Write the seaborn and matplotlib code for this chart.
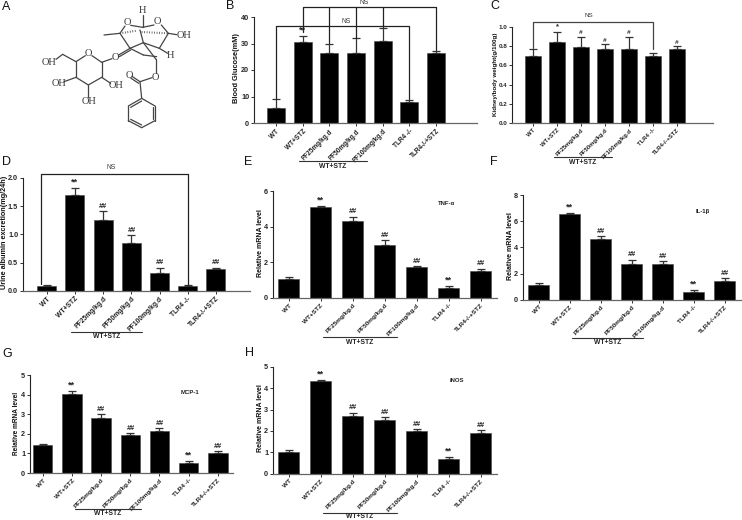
import matplotlib
matplotlib.use('Agg')
import matplotlib.pyplot as plt
import numpy as np
import pandas as pd
import seaborn as sns

W, H = 742, 520

groups = ['WT', 'WT+STZ', 'PF25mg/kg.d', 'PF50mg/kg.d', 'PF100mg/kg.d', 'TLR4 -/-', 'TLR4-/-+STZ']

glucose = [5.8, 30.5, 26.5, 26.3, 30.8, 8.0, 26.3]
glucose_top = [9.0, 33.0, 30.0, 32.0, 36.0, 8.6, 27.0]
kidney = [0.70, 0.84, 0.79, 0.77, 0.77, 0.70, 0.77]
kidney_top = [0.77, 0.95, 0.90, 0.82, 0.90, 0.73, 0.80]
albumin = [0.09, 1.69, 1.25, 0.84, 0.32, 0.08, 0.38]
albumin_top = [0.11, 1.82, 1.41, 0.98, 0.41, 0.10, 0.41]
tnf = [1.05, 5.10, 4.30, 2.95, 1.75, 0.55, 1.50]
tnf_top = [1.15, 5.15, 4.55, 3.25, 1.80, 0.65, 1.65]
il1b = [1.15, 6.55, 4.60, 2.70, 2.75, 0.60, 1.45]
il1b_top = [1.25, 6.60, 4.85, 3.05, 2.95, 0.72, 1.65]
mcp1 = [1.42, 4.02, 2.80, 1.95, 2.13, 0.53, 1.00]
mcp1_top = [1.47, 4.17, 3.00, 2.04, 2.28, 0.60, 1.12]
inos = [1.02, 4.32, 2.70, 2.50, 2.00, 0.70, 1.92]
inos_top = [1.10, 4.36, 2.85, 2.65, 2.08, 0.78, 2.02]

marks_full = ['', '**', '##', '##', '##', '**', '##']
marks_d = ['', '**', '##', '##', '##', '', '##']
marks_c = ['', '*', '#', '#', '#', '', '#']
marks_b = ['', '**', '', '', '', '', '']

sns.set_theme(style='ticks')
plt.rcParams['font.family'] = ['Liberation Sans', 'DejaVu Sans']
plt.rcParams['font.weight'] = 'bold'

fig = plt.figure(figsize=(W / 100, H / 100), dpi=100)

# overlay in pixel coordinates for letters, structure and group lines
over = fig.add_axes([0, 0, 1, 1], zorder=5)
over.set_xlim(0, W)
over.set_ylim(H, 0)
over.axis('off')


def bar_panel(vals, tops, marks, ylabel, yticks, ticklabels, box, bars, lab, star_fs=6.5, hash_fs=5.2, tick_fs=5.2, x_fs=4.8):
    left, right, y0, ytop = box
    c0, step, bar_w = bars
    lab_x, lab_y, lab_fs = lab
    # axes box is placed so that the bar centres land where they are in the figure
    ax = fig.add_axes([left / W, 1 - y0 / H, (right - left) / W, (y0 - ytop) / H])
    df = pd.DataFrame({'group': groups, 'value': vals})
    sns.barplot(data=df, x='group', y='value', color='black', saturation=1,
                width=bar_w / step, ax=ax, errorbar=None, edgecolor='#444444', linewidth=0.4)
    x = np.arange(len(groups))
    ax.errorbar(x, vals, yerr=[np.zeros(len(vals)), np.array(tops) - np.array(vals)], fmt='none',
                ecolor='#333333', elinewidth=0.9, capsize=3.2, capthick=0.9, zorder=1)
    ax.set_xlim((left - c0) / step, (right - c0) / step)
    ax.set_ylim(yticks[0], yticks[-1])
    ax.set_yticks(yticks)
    ax.set_yticklabels(ticklabels, fontsize=tick_fs, fontweight='bold')
    ax.set_xticks(x)
    ax.set_xticklabels(groups, rotation=45, ha='right', rotation_mode='anchor', fontsize=x_fs, fontweight='bold', color='#222222')
    ax.set_xlabel('')
    ax.set_ylabel('')
    over.text(lab_x, lab_y, ylabel, rotation=90, fontsize=lab_fs, fontweight='bold', ha='center', va='center', color='#111111')
    ax.patch.set_alpha(0)
    sns.despine(ax=ax)
    ax.spines['left'].set_linewidth(0.8)
    ax.spines['left'].set_color('#222222')
    ax.spines['bottom'].set_linewidth(0.9)
    ax.spines['bottom'].set_color('#666666')
    ax.tick_params(axis='both', length=2, width=0.7, pad=1.5, color='#333333')
    for i, m in enumerate(marks):
        if m:
            ax.annotate(m, (i, tops[i]), xytext=(0, 1.0), textcoords='offset points', ha='center', va='bottom',
                        fontsize=hash_fs if '#' in m else star_fs, fontweight='bold', color='#222222',
                        fontstyle='italic' if '#' in m else 'normal')
    return ax


def bracket(ax, x1, x2, y, y1, y2, color='#222222'):
    ax.plot([x1, x1, x2, x2], [y1, y, y, y2], color=color, lw=0.9, clip_on=False, zorder=6)


def under_group(x1, x2, y, ty):
    over.plot([x1, x2], [y, y], color='#333333', lw=0.8)
    over.text((x1 + x2) / 2, ty, 'WT+STZ', fontsize=4.9, fontweight='bold', ha='center', va='center', color='#222222')


ax_b = bar_panel(glucose, glucose_top, marks_b, 'Blood Glucose(mM)', [0, 10, 20, 30, 40],
                 ['0', '10', '20', '30', '40'], (254, 477, 123, 17), (276, 26.67, 18), (237, 68, 5.3), x_fs=4.7)
bracket(ax_b, 0, 5, 36.7, 9.2, 8.9)
bracket(ax_b, 1, 6, 43.7, 34.5, 27.5)
for pos, low in [(2, 30.2), (3, 32.2), (4, 36.2)]:
    ax_b.plot([pos, pos], [low, 43.7], color='#222222', lw=0.9, clip_on=False, zorder=6)
ax_b.text(2.62, 38.2, 'NS', fontsize=4.9, fontweight='normal', ha='center', va='center', color='#333333')
ax_b.text(3.3, 45.5, 'NS', fontsize=4.9, fontweight='normal', ha='center', va='center', color='#333333', clip_on=False)

ax_c = bar_panel(kidney, kidney_top, marks_c, 'Kidney/body weight(g/100g)', [0, 0.2, 0.4, 0.6, 0.8, 1.0],
                 ['0.0', '0.2', '0.4', '0.6', '0.8', '1.0'], (512, 713, 123, 27), (533, 24, 16.7), (496, 74, 4.5),
                 star_fs=5.5, hash_fs=4.6, tick_fs=4.5, x_fs=4.2)
bracket(ax_c, 0, 5, 1.05, 0.78, 0.77, color='#444444')
ax_c.text(2.31, 1.115, 'NS', fontsize=4.5, fontweight='normal', ha='center', va='center', color='#333333')

ax_d = bar_panel(albumin, albumin_top, marks_d, 'Urine albumin excretion(mg/24h)', [0, 0.5, 1.0, 1.5, 2.0],
                 ['0.0', '0.5', '1.0', '1.5', '2.0'], (23, 250, 290.7, 178), (46.7, 28.2, 19), (4.5, 232, 5.2), x_fs=4.9)
bracket(ax_d, -0.2, 5, 2.065, 0.12, 0.11)
ax_d.text(2.3, 2.18, 'NS', fontsize=4.9, fontweight='normal', ha='center', va='center', color='#333333')

ax_e = bar_panel(tnf, tnf_top, marks_full, 'Relative mRNA level', [0, 2, 4, 6], ['0', '2', '4', '6'],
                 (273, 497, 298, 191), (288.7, 32, 21), (260, 243, 5.0), x_fs=4.6)
ax_f = bar_panel(il1b, il1b_top, marks_full, 'Relative mRNA level', [0, 2, 4, 6, 8], ['0', '2', '4', '6', '8'],
                 (523, 741, 299.7, 195), (538.7, 31, 20.7), (511, 246, 5.0), x_fs=4.6)
ax_g = bar_panel(mcp1, mcp1_top, marks_full, 'Relative mRNA level', [0, 1, 2, 3, 4, 5],
                 ['0', '1', '2', '3', '4', '5'], (30, 233, 473, 375), (42.7, 29.2, 19.5), (16, 423, 4.7), x_fs=4.6)
ax_h = bar_panel(inos, inos_top, marks_full, 'Relative mRNA level', [0, 1, 2, 3, 4, 5],
                 ['0', '1', '2', '3', '4', '5'], (273, 497, 473.7, 366.7), (288.7, 32, 21), (261, 418, 5.0), x_fs=4.6)

under_group(299, 367, 160.7, 166)
under_group(554, 612, 157, 163)
under_group(71, 142, 331.7, 337)
under_group(323, 397, 336.7, 342)
under_group(572, 643, 337.7, 342.5)
under_group(75, 141, 508.7, 513.5)
under_group(323, 397, 512.7, 517)

over.text(447, 203.7, 'TNF-α', fontsize=4.3, ha='center', va='center', color='#222222')
over.text(702.7, 211, 'IL-1β', fontsize=4.3, ha='center', va='center', color='#222222')
over.text(190, 393, 'MCP-1', fontsize=4.3, ha='center', va='center', color='#222222')
over.text(457, 380, 'iNOS', fontsize=4.3, ha='center', va='center', color='#222222')

for letter, lx, ly in [('A', 2, 7), ('B', 226, 6), ('C', 490, 6), ('D', 2, 162),
                       ('E', 244, 162), ('F', 490, 162), ('G', 2, 354), ('H', 245, 353)]:
    over.text(lx, ly, letter, fontsize=9, fontweight='normal', ha='left', va='center', color='#111111')

# panel A: structure, traced on a 3x crop so divided by 3 below
bonds = [
    ((228, 185), (256, 167)), ((276, 167), (305, 187)), ((305, 187), (305, 232)), ((305, 232), (265, 255)),
    ((265, 255), (228, 232)), ((228, 232), (228, 185)), ((228, 185), (188, 163)), ((188, 163), (168, 178)),
    ((228, 232), (192, 245)), ((265, 255), (265, 290)), ((305, 232), (332, 250)), ((305, 187), (336, 176)),
    ((356, 165), (390, 145)), ((358, 170), (392, 150)), ((390, 145), (360, 100)), ((360, 100), (312, 105)),
    ((360, 100), (375, 78)), ((392, 76), (428, 82)), ((428, 82), (428, 45)), ((428, 82), (462, 75)),
    ((484, 75), (505, 100)), ((505, 100), (530, 104)), ((505, 100), (478, 145)), ((478, 145), (430, 128)),
    ((430, 128), (390, 145)), ((478, 145), (503, 160)), ((430, 128), (420, 90)), ((390, 145), (430, 165)),
    ((430, 165), (470, 170)), ((430, 128), (468, 178)), ((468, 178), (468, 218)), ((456, 233), (420, 245)),
    ((420, 245), (396, 229)), ((416, 250), (392, 234)), ((420, 245), (425, 295)),
    ((425, 295), (465, 318)), ((465, 318), (465, 362)), ((465, 362), (425, 383)), ((425, 383), (385, 362)),
    ((385, 362), (385, 318)), ((385, 318), (425, 295)), ((458, 322), (458, 358)), ((425, 375), (392, 358)),
    ((392, 322), (425, 303)),
]
hashed = [((360, 100), (410, 92)), ((425, 96), (505, 100))]
atoms = [('O', 265, 160), ('OH', 148, 188), ('OH', 178, 250), ('OH', 267, 305), ('OH', 348, 258), ('O', 347, 172),
         ('O', 382, 68), ('O', 473, 66), ('H', 428, 32), ('OH', 552, 106), ('H', 512, 166), ('O', 467, 231), ('O', 388, 225)]
for (x1, y1), (x2, y2) in bonds:
    over.plot([x1 / 3, x2 / 3], [y1 / 3, y2 / 3], color='#444444', lw=0.9, solid_capstyle='round')
for (x1, y1), (x2, y2) in hashed:
    over.plot([x1 / 3, x2 / 3], [y1 / 3, y2 / 3], color='#555555', lw=1.5, ls=(0, (0.4, 0.8)))
for label, ax_x, ax_y in atoms:
    over.text(ax_x / 3, ax_y / 3, label, family='Liberation Serif', fontweight='normal', fontsize=7.5,
              ha='center', va='center', color='#333333')

fig.savefig('out.png', dpi=100)
